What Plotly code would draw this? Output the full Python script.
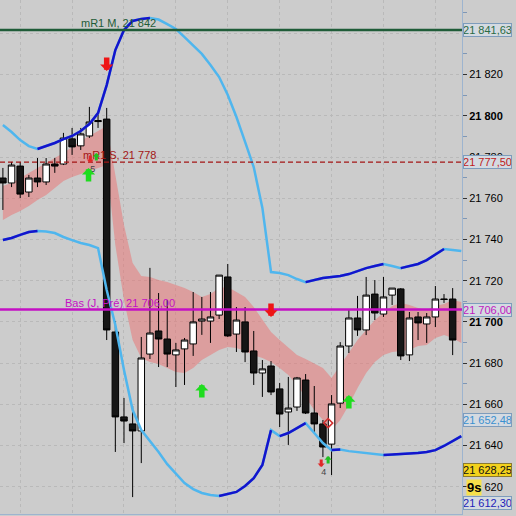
import plotly.graph_objects as go

# ---------------- data (prices) ----------------
candle_idx = list(range(53))
opens = [21769.8, 21767.4, 21775.6, 21763.0, 21769.8, 21767.9, 21776.6, 21776.6, 21788.8, 21785.4,
         21790.2, 21797.7, 21798.4, 21695.1, 21653.9, 21650.5, 21647.1, 21684.4, 21695.6, 21691.7,
         21684.0, 21686.9, 21689.3, 21700.4, 21700.4, 21703.3, 21721.8, 21694.1, 21700.0, 21685.9,
         21675.2, 21678.6, 21667.5, 21656.3, 21658.7, 21671.8, 21655.8, 21650.5, 21640.7, 21660.6,
         21688.3, 21701.9, 21696.1, 21713.5, 21703.8, 21713.0, 21716.0, 21684.0, 21702.4, 21699.0,
         21702.4, 21711.1, 21711.1]
highs = [21774.7, 21777.6, 21777.6, 21771.3, 21779.5, 21779.5, 21779.5, 21791.7, 21794.1, 21794.1,
         21804.3, 21801.4, 21803.8, 21700.4, 21663.1, 21659.2, 21692.7, 21726.2, 21714.0, 21710.6,
         21689.8, 21692.2, 21714.5, 21712.1, 21714.5, 21722.7, 21728.1, 21707.2, 21707.2, 21695.6,
         21681.5, 21681.0, 21670.4, 21673.3, 21673.3, 21674.7, 21668.9, 21652.4, 21664.5, 21690.2,
         21705.8, 21712.6, 21721.8, 21720.3, 21721.8, 21716.4, 21716.4, 21704.8, 21704.8, 21704.3,
         21717.4, 21713.5, 21716.4]
lows = [21754.3, 21765.4, 21760.1, 21760.6, 21765.4, 21766.4, 21772.3, 21776.1, 21781.0, 21783.4,
        21789.2, 21794.1, 21691.2, 21636.9, 21641.2, 21615.0, 21631.5, 21682.0, 21678.1, 21678.1,
        21668.4, 21669.4, 21683.5, 21693.7, 21689.8, 21701.4, 21692.7, 21685.4, 21680.5, 21669.4,
        21663.6, 21664.5, 21649.0, 21640.3, 21656.8, 21655.3, 21646.1, 21634.4, 21625.7, 21658.2,
        21684.9, 21693.2, 21693.6, 21700.9, 21702.4, 21708.2, 21681.5, 21681.0, 21691.2, 21689.8,
        21697.5, 21709.2, 21683.9]
closes = [21767.4, 21776.1, 21762.0, 21769.8, 21767.9, 21776.6, 21775.6, 21789.2, 21784.9, 21791.2,
          21797.0, 21797.2, 21696.1, 21653.9, 21651.9, 21647.1, 21682.5, 21694.6, 21691.7, 21684.4,
          21686.4, 21691.2, 21700.0, 21701.4, 21702.4, 21722.7, 21693.2, 21700.9, 21685.4, 21675.2,
          21677.2, 21666.0, 21655.3, 21658.2, 21672.8, 21655.8, 21650.5, 21639.3, 21660.2, 21688.3,
          21701.9, 21696.1, 21713.0, 21704.3, 21712.1, 21716.4, 21683.5, 21701.9, 21699.5, 21702.4,
          21711.1, 21710.9, 21691.2]

band_idx = list(range(54))
upper_band = [21795.5, 21792.1, 21788.2, 21785.3, 21783.9, 21785.3, 21786.8, 21788.7, 21790.2, 21792.6,
              21796.0, 21801.3, 21814.9, 21831.9, 21841.6, 21846.0, 21847.0, 21847.4, 21846.7, 21844.5,
              21842.1, 21838.2, 21834.3, 21830.0, 21824.6, 21818.8, 21810.1, 21799.4, 21787.3, 21775.1,
              21755.3, 21724.2, 21723.7, 21722.7, 21720.8, 21719.3, 21720.3, 21721.3, 21721.8, 21722.3,
              21723.2, 21724.7, 21726.1, 21727.1, 21728.1, 21727.1, 21726.1, 21727.1, 21728.1, 21730.0,
              21732.9, 21735.4, 21734.9, 21734.4]
lower_band = [21739.7, 21740.7, 21742.2, 21743.6, 21744.1, 21743.9, 21743.1, 21741.2, 21739.7, 21738.3,
              21737.3, 21735.8, 21715.5, 21698.5, 21676.7, 21657.2, 21647.5, 21642.2, 21636.9, 21631.0,
              21626.2, 21621.8, 21618.9, 21617.0, 21616.0, 21615.5, 21616.5, 21617.5, 21620.4, 21624.2,
              21630.6, 21647.5, 21644.6, 21646.1, 21648.5, 21650.9, 21646.1, 21641.2, 21637.8, 21638.1,
              21637.3, 21636.9, 21636.4, 21635.9, 21635.4, 21635.6, 21635.9, 21636.1, 21636.4, 21636.9,
              21637.8, 21639.8, 21642.2, 21644.6]
ribbon_top = [21765.9, 21767.4, 21769.8, 21772.2, 21774.7, 21777.1, 21779.5, 21781.9, 21784.9, 21787.8,
              21790.2, 21792.6, 21795.0, 21771.3, 21747.0, 21728.6, 21722.3, 21721.8, 21720.3, 21719.3,
              21717.9, 21716.4, 21714.5, 21712.1, 21713.5, 21716.4, 21716.9, 21714.5, 21712.1, 21707.2,
              21700.9, 21695.1, 21691.2, 21687.3, 21683.9, 21682.0, 21680.0, 21677.6, 21672.8, 21679.1,
              21684.9, 21691.2, 21696.1, 21700.9, 21704.3, 21707.7, 21709.2, 21708.2, 21706.7, 21705.8,
              21707.7, 21708.7, 21710.6, 21709.6]
ribbon_bottom = [21749.4, 21751.9, 21753.8, 21756.2, 21759.1, 21761.6, 21765.0, 21768.4, 21770.3, 21771.8,
                 21773.2, 21774.7, 21776.1, 21737.3, 21710.6, 21691.2, 21682.5, 21680.5, 21679.6, 21677.6,
                 21675.7, 21675.2, 21677.6, 21681.5, 21683.9, 21686.4, 21687.8, 21687.3, 21685.9, 21683.9,
                 21682.5, 21680.5, 21677.6, 21674.2, 21669.4, 21663.1, 21657.2, 21652.4, 21647.5, 21652.4,
                 21659.7, 21667.9, 21675.2, 21680.5, 21683.9, 21685.4, 21685.9, 21686.4, 21688.3, 21688.8,
                 21692.2, 21693.6, 21692.2, 21689.8]

# horizontal levels
level_values = [21841.63, 21777.50, 21706.00]
level_names = ["mR1 M, 21 842", "mR1 S, 21 778", "Bas (J, Pré) 21 706,00"]
level_colors = ["#1f5c38", "#a31515", "#c410c4"]

# right-axis value tags
tag_values = [21841.63, 21777.50, 21706.00, 21652.48, 21628.25, 21612.30]
tag_colors = ["#2a6a44", "#c01a1a", "#c018c0", "#3a90d0", "#111111", "#1c1cb8"]

# signal arrows (tip index, tip price)
up_idx = [9.9, 23, 40]
up_price = [21774.7, 21669.9, 21664.5]
down_idx = [12, 31]
down_price = [21821.7, 21702.4]
small_up_idx = [10.8, 37.6]
small_up_price = [21781.9, 21634.9]
small_down_idx = [10.1, 36.8]
small_down_price = [21777.1, 21629.6]
count_idx = [10.4, 37.1]
count_price = [21773.7, 21626.7]
count_text = ["5", "4"]
diamond_idx = [37.6]
diamond_price = [21650.9]

y_ticks = list(range(21620, 21841, 20))
y_ticktext = ["<b>21 %s</b>" % str(v)[2:] if v % 100 == 0 else "21 %s" % str(v)[2:] for v in y_ticks]

FONT = "Liberation Sans, Arial, sans-serif"
LIGHT_BLUE = "#4fb6ee"
DARK_BLUE = "#1414cc"
X_RANGE = [-0.335, 53.08]
Y_RANGE = [21606.8, 21856.17]

fig = go.Figure()

# pink ribbon (base axes, drawn underneath the overlay with candles)
fig.add_trace(go.Scatter(x=band_idx, y=ribbon_bottom, mode="lines", line=dict(width=0),
                         hoverinfo="skip", showlegend=False))
fig.add_trace(go.Scatter(x=band_idx, y=ribbon_top, mode="lines", line=dict(width=0),
                         fill="tonexty", fillcolor="rgba(236,112,112,0.5)",
                         hoverinfo="skip", showlegend=False))

# candles (overlay axes)
fig.add_trace(go.Candlestick(
    x=candle_idx, open=opens, high=highs, low=lows, close=closes,
    increasing=dict(line=dict(color="black", width=1), fillcolor="white"),
    decreasing=dict(line=dict(color="black", width=1), fillcolor="#161616"),
    whiskerwidth=0, showlegend=False, hoverinfo="skip", xaxis="x2", yaxis="y2"))


def rising_runs(xs, vals):
    ox, oy = [], []
    run = []
    for i in range(len(vals) - 1):
        if vals[i + 1] > vals[i]:
            if not run:
                run = [i]
            run.append(i + 1)
        else:
            if run:
                ox += [xs[k] for k in run] + [None]
                oy += [vals[k] for k in run] + [None]
                run = []
    if run:
        ox += [xs[k] for k in run] + [None]
        oy += [vals[k] for k in run] + [None]
    return ox, oy


for band in (upper_band, lower_band):
    fig.add_trace(go.Scatter(x=band_idx, y=band, mode="lines",
                             line=dict(color=LIGHT_BLUE, width=2.5),
                             hoverinfo="skip", showlegend=False, xaxis="x2", yaxis="y2"))
    rx, ry = rising_runs(band_idx, band)
    fig.add_trace(go.Scatter(x=rx, y=ry, mode="lines",
                             line=dict(color=DARK_BLUE, width=2.5),
                             hoverinfo="skip", showlegend=False, connectgaps=False,
                             xaxis="x2", yaxis="y2"))

# small markers and counters
fig.add_trace(go.Scatter(x=diamond_idx, y=diamond_price, mode="markers",
                         marker=dict(symbol="diamond-open", size=7, color="#d03030", line=dict(width=1.5)),
                         hoverinfo="skip", showlegend=False, xaxis="x2", yaxis="y2"))
fig.add_trace(go.Scatter(x=count_idx, y=count_price, mode="text", text=count_text,
                         textfont=dict(family=FONT, size=9, color="#444444"),
                         hoverinfo="skip", showlegend=False, xaxis="x2", yaxis="y2"))

shapes = []
for v, c in zip(level_values, level_colors):
    dash = "5px,3px" if c == "#a31515" else "solid"
    w = 1.2 if c == "#a31515" else 2.5
    shapes.append(dict(type="line", xref="paper", x0=0, x1=1, yref="y", y0=v, y1=v,
                       line=dict(color=c, width=w, dash=dash), layer="above"))

annotations = []
label_right = [0.342, 0.342, 0.383]
for v, t, c, xr in zip(level_values, level_names, level_colors, label_right):
    annotations.append(dict(xref="paper", x=xr, xanchor="right", yref="y", y=v, yanchor="bottom",
                            text=t, showarrow=False, yshift=-1,
                            font=dict(family=FONT, size=11, color=c)))

for v, c in zip(tag_values, tag_colors):
    txt = f"{v:,.2f}".replace(",", " ").replace(".", ",")
    yellow = c == "#111111"
    annotations.append(dict(xref="paper", x=1.003, xanchor="left", yref="y", y=v, yanchor="middle",
                            text=txt, showarrow=False, width=47, align="center",
                            bgcolor="#f3d21c" if yellow else "#d4dae1",
                            bordercolor="#8a7a30" if yellow else "#7d9cbc",
                            borderwidth=1, borderpad=0,
                            font=dict(family=FONT, size=11, color=c)))

annotations.append(dict(xref="paper", x=1.009, xanchor="left", yref="paper", y=0.0506, yanchor="middle",
                        text="<b>9s</b>", showarrow=False, bgcolor="#f6e14a", borderpad=0,
                        font=dict(family=FONT, size=13, color="black")))

for xs, ys, col, ay, w in [(up_idx, up_price, "#1fdc1f", 15, 5.5), (down_idx, down_price, "#ee1515", -15, 5.5),
                           (small_up_idx, small_up_price, "#22c022", 9, 3),
                           (small_down_idx, small_down_price, "#e02828", -9, 3)]:
    for xi, yi in zip(xs, ys):
        annotations.append(dict(x=xi, y=yi, xref="x", yref="y", text="", showarrow=True,
                                arrowhead=1, arrowsize=0.4, arrowwidth=w, arrowcolor=col,
                                ax=0, ay=ay, standoff=0))

fig.update_layout(
    width=516, height=516,
    margin=dict(l=0, r=54, t=0, b=2),
    paper_bgcolor="#cccccc", plot_bgcolor="#cccccc",
    showlegend=False, hovermode=False,
    shapes=shapes, annotations=annotations,
    boxgap=0.25, boxgroupgap=0,
    font=dict(family=FONT, size=11, color="black"),
    xaxis=dict(range=X_RANGE, showticklabels=False, ticks="",
               showgrid=True, gridcolor="#b9b9b9", griddash="3px,3px", gridwidth=1,
               tick0=2, dtick=6, zeroline=False, rangeslider=dict(visible=False),
               showline=True, linecolor="#9db4cf", linewidth=1, fixedrange=True),
    yaxis=dict(range=Y_RANGE, side="right", tickvals=y_ticks, ticktext=y_ticktext,
               ticks="outside", ticklen=4, tickcolor="#333333",
               tickfont=dict(family=FONT, size=11, color="black"),
               showgrid=True, gridcolor="#b9b9b9", griddash="3px,3px", gridwidth=1,
               minor=dict(dtick=10, tick0=21600, ticks="outside", ticklen=4, tickcolor="#7f97b5",
                          showgrid=False),
               zeroline=False, showline=True, linecolor="#9db4cf", linewidth=1, fixedrange=True),
    xaxis2=dict(range=X_RANGE, overlaying="x", visible=False, showgrid=False,
                rangeslider=dict(visible=False), fixedrange=True),
    yaxis2=dict(range=Y_RANGE, overlaying="y", visible=False, showgrid=False, fixedrange=True),
)

fig.write_html("out.html", post_script="document.body.style.margin='0px';",
               config={"displayModeBar": False})
